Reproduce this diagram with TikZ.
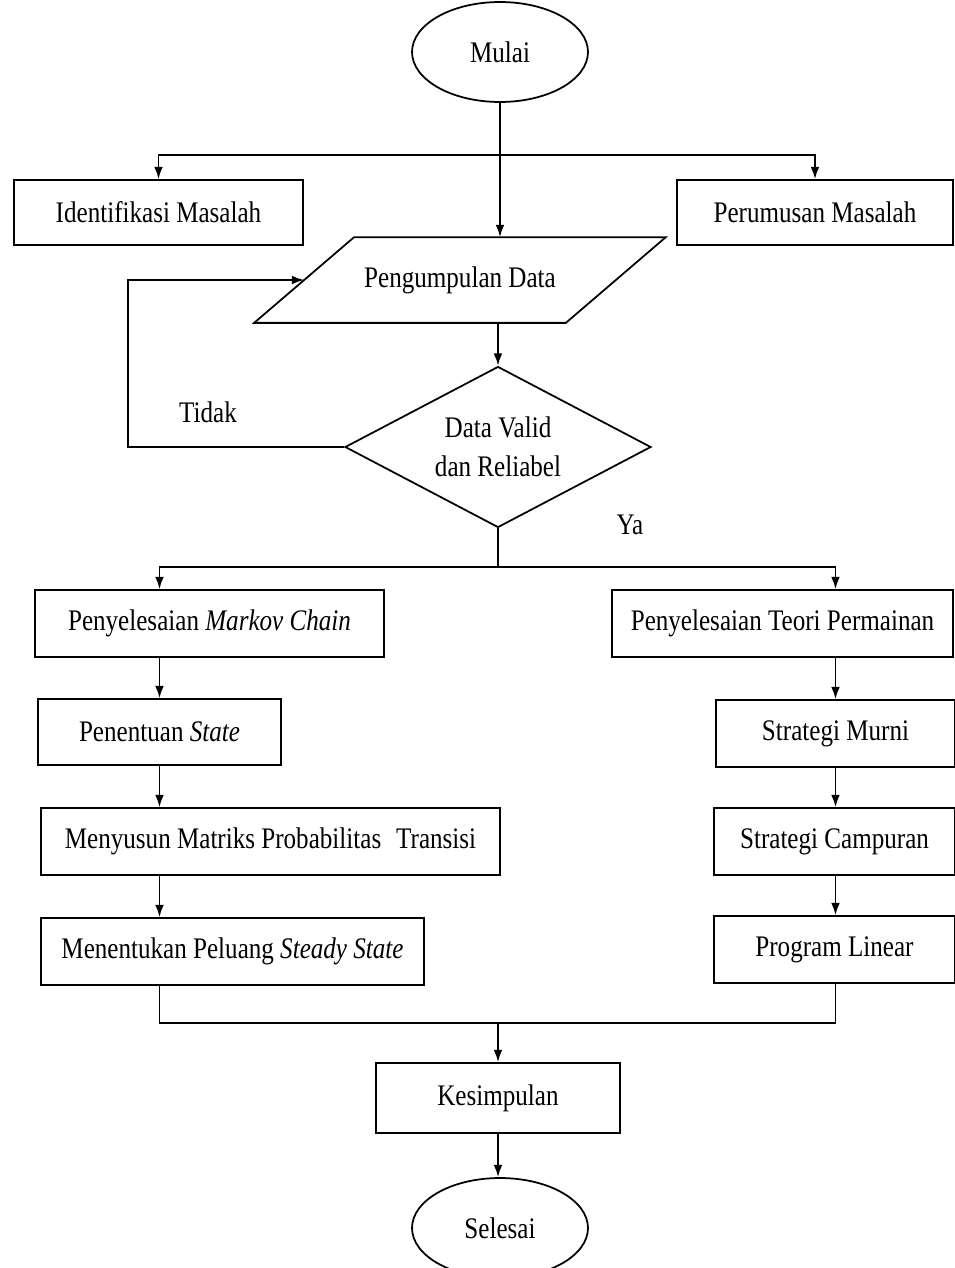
\documentclass[tikz,border=0pt]{standalone}
\usepackage{fontspec}
\setmainfont{Liberation Serif}[FakeStretch=0.84]
\usetikzlibrary{shapes.geometric,calc,arrows.meta}

\begin{document}
\begin{tikzpicture}[x=0.02cm,y=-0.02cm, line width=1pt,
    every node/.style={font=\fontsize{17}{22}\selectfont},
    prosesbox/.style={draw, rectangle, inner sep=0pt},
    terminal/.style={draw, ellipse, minimum width=3.52cm, minimum height=2cm, inner sep=0pt},
    arr/.style={-{Latex[length=7pt,width=5pt]}}]
    \useasboundingbox (0,0) rectangle (955,1268);
    % start and first stage
    \node[terminal] (mulai) at (500,52) {Mulai};
    \node[prosesbox, minimum width=5.78cm, minimum height=1.3cm] (identifikasi) at (158.5,212.5) {Identifikasi Masalah};
    \node[prosesbox, minimum width=5.52cm, minimum height=1.3cm] (perumusan) at (815,212.5) {Perumusan Masalah};
    \node[minimum width=6.2cm, minimum height=1.68cm, inner sep=0pt] (data) at (460,280) {Pengumpulan Data};
    \draw ($(data.north west)+(50,0)$) -- ($(data.north east)+(50,0)$) -- ($(data.south east)+(-50,0)$) -- ($(data.south west)+(-50,0)$) -- cycle;
    \node[draw, diamond, aspect=1.9, minimum width=6.12cm, minimum height=3.22cm, inner sep=0pt, align=center] (valid) at (498,447) {Data Valid\\dan Reliabel};
    \node (tidak) at (208,412) {Tidak};
    \node (ya) at (630,525) {Ya};
    % markov chain column
    \node[prosesbox, minimum width=6.98cm, minimum height=1.34cm] (markov) at (209.5,623.5) {Penyelesaian \textit{Markov Chain}};
    \node[prosesbox, minimum width=4.86cm, minimum height=1.32cm] (state) at (159.5,732) {Penentuan \textit{State}};
    \node[prosesbox, minimum width=9.18cm, minimum height=1.34cm] (matriks) at (270.5,841.5) {Menyusun Matriks Probabilitas\enspace Transisi};
    \node[prosesbox, minimum width=7.66cm, minimum height=1.34cm] (steady) at (232.5,951.5) {Menentukan Peluang \textit{Steady State}};
    % teori permainan column
    \node[prosesbox, minimum width=6.82cm, minimum height=1.34cm] (teori) at (782.5,623.5) {Penyelesaian Teori Permainan};
    \node[prosesbox, minimum width=4.78cm, minimum height=1.34cm] (murni) at (835.5,733.5) {Strategi Murni};
    \node[prosesbox, minimum width=4.82cm, minimum height=1.34cm] (campuran) at (834.5,841.5) {Strategi Campuran};
    \node[prosesbox, minimum width=4.82cm, minimum height=1.34cm] (linear) at (834.5,949.5) {Program Linear};
    % end
    \node[prosesbox, minimum width=4.88cm, minimum height=1.4cm] (kesimpulan) at (498,1098) {Kesimpulan};
    \node[terminal] (selesai) at (500,1228) {Selesai};
    \coordinate (split1) at (500,155);
    \coordinate (loop) at (128,447);
    \coordinate (split2) at (498,567);
    \coordinate (join) at (498,1023);
    % connectors
    \draw[arr] (mulai.south) -- (mulai.south |- data.north);
    \draw[arr] (split1) -| (identifikasi.north);
    \draw[arr] (split1) -| (perumusan.north);
    \draw[arr] (valid.north |- data.south) -- (valid.north);
    \draw[arr] (valid.west) -- (loop) |- (data.west);
    \draw (valid.south) -- (split2);
    \draw[arr] (split2) -| (state.north |- markov.north);
    \draw[arr] (split2) -| (murni.north |- teori.north);
    \draw[arr] (state.north |- markov.south) -- (state.north);
    \draw[arr] (state.south) -- (state.south |- matriks.north);
    \draw[arr] (state.south |- matriks.south) -- (state.south |- steady.north);
    \draw[arr] (murni.north |- teori.south) -- (murni.north);
    \draw[arr] (murni.south) -- (murni.south |- campuran.north);
    \draw[arr] (murni.south |- campuran.south) -- (murni.south |- linear.north);
    \draw (state.south |- steady.south) |- (join) -| (murni.south |- linear.south);
    \draw[arr] (join) -- (join |- kesimpulan.north);
    \draw[arr] (kesimpulan.south) -- (kesimpulan.south |- selesai.north);
\end{tikzpicture}
\end{document}
